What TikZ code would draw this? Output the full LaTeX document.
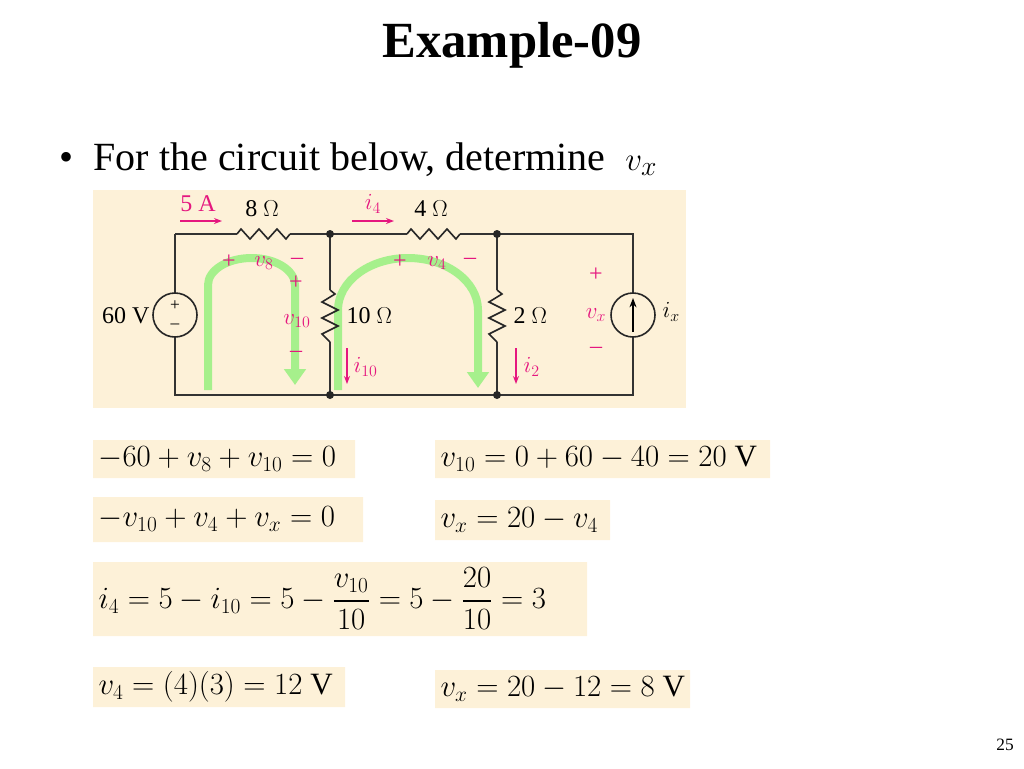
\documentclass[tikz,border=0pt]{standalone}
\usepackage{amsmath}
\usepackage{graphicx}
\usepackage{fontspec}
\setmainfont{Liberation Serif}
\usetikzlibrary{arrows.meta}
\definecolor{panel}{HTML}{FDF1D8}
\definecolor{pinkc}{HTML}{E5177F}
\definecolor{loopc}{HTML}{A6F08C}
\tikzset{
  wire/.style={line width=1.1pt,black!80},
  res/.style={line width=1.2pt,black!85},
  lbl/.style={font=\fontsize{18}{20}\selectfont,inner sep=1pt},
  pk/.style={lbl,text=pinkc},
  curr/.style={pinkc,line width=1pt,-{Stealth[length=6pt]}},
  loop/.style={loopc,line width=6pt,line cap=butt,-{Triangle[length=12pt,width=16pt]}},
  dot/.style={circle,fill=black!85,inner sep=0pt,minimum size=6pt},
  src/.style={circle,draw=black!85,line width=1.2pt,fill=panel,minimum size=33pt,inner sep=0pt},
  eq/.style={anchor=west,inner sep=4pt,font=\fontsize{25}{29}\selectfont}
}
\newcommand{\eqtext}[1]{\scalebox{0.93}{$#1$}}
\begin{document}
\begin{tikzpicture}[x=0.75pt,y=-0.75pt]
\useasboundingbox (0,0) rectangle (1024,768);
% title and question
\node[font=\bfseries\fontsize{38}{42}\selectfont] (title) at (512,45) {Example-09};
\node[anchor=west,font=\fontsize{30}{34}\selectfont] (ask) at (55,160) {\textbullet\ \ For the circuit below, determine \ $v_x$};
\node[font=\fontsize{13}{15}\selectfont] (page) at (1005,745) {25};

% circuit panel
\fill[panel] (93,190) rectangle (686,408);
\coordinate (tl) at (175,234);  \coordinate (bl) at (175,395);
\coordinate (ta) at (330,234);  \coordinate (ba) at (330,395);
\coordinate (tb) at (497,234);  \coordinate (bb) at (497,395);
\coordinate (tr) at (633,234);  \coordinate (br) at (633,395);

% green loops
\draw[loop] (208,390) -- (208,285) arc[start angle=180,end angle=360,x radius=43.5,y radius=27] -- (295,385);
\draw[loop] (338,390) -- (338,310) arc[start angle=180,end angle=360,x radius=70,y radius=52] -- (478,388);

% wires
\draw[wire] (tl) -- (237,234) (290,234) -- (ta) -- (407,234) (460,234) -- (tb) -- (tr) -- (br) -- (bl) -- (tl);
\draw[wire] (ta) -- (330,290) (330,342) -- (ba);
\draw[wire] (tb) -- (497,290) (497,342) -- (bb);
\draw[res] (237,234) -- (241,229) -- (250,239) -- (259,229) -- (268,239) -- (277,229) -- (286,239) -- (290,234);
\draw[res] (407,234) -- (411,229) -- (420,239) -- (429,229) -- (438,239) -- (447,229) -- (456,239) -- (460,234);
\draw[res] (330,290) -- (335,294) -- (322,302) -- (338,310) -- (322,318) -- (338,326) -- (322,334) -- (330,342);
\draw[res] (497,290) -- (502,294) -- (489,302) -- (505,310) -- (489,318) -- (505,326) -- (489,334) -- (497,342);
\node[dot] (na) at (ta) {}; \node[dot] (nb) at (ba) {};
\node[dot] (nc) at (tb) {}; \node[dot] (nd) at (bb) {};

% sources
\node[src] (vs) at (175,315) {};
\node[font=\fontsize{13}{13}\selectfont] (vp) at (175,306) {+};
\node[font=\fontsize{13}{13}\selectfont] (vm) at (175,326) {--};
\node[src] (is) at (633,315) {};
\draw[line width=1.1pt,-{Stealth[length=7pt]}] (633,332) -- (633,298);

% labels
\node[lbl,anchor=east] (l60) at (151,316) {60 V};
\node[lbl] (l8) at (262,209) {8 $\Omega$};
\node[lbl] (l4) at (431,209) {4 $\Omega$};
\node[lbl,anchor=west] (l10) at (345,316) {10 $\Omega$};
\node[lbl,anchor=west] (l2) at (512,316) {2 $\Omega$};
\node[lbl,anchor=west] (lix) at (661,312) {$i_x$};
\node[pk] (l5) at (198,204) {5 A};
\coordinate (a5s) at (180,221); \coordinate (a5e) at (222,221);
\draw[curr] (a5s) -- (a5e);
\node[pk] (li4) at (373,204) {$i_4$};
\coordinate (a4s) at (352,221); \coordinate (a4e) at (394,221);
\draw[curr] (a4s) -- (a4e);
\node[pk] (p8) at (229,262) {+}; \node[pk] (v8) at (264,263) {$v_8$}; \node[pk] (m8) at (297,261) {--};
\node[pk] (p4) at (400,262) {+}; \node[pk] (v4) at (437,263) {$v_4$}; \node[pk] (m4) at (470,261) {--};
\node[pk] (p10) at (296,283) {+}; \node[pk] (v10) at (297,321) {$v_{10}$}; \node[pk] (m10) at (296,354) {--};
\node[pk] (px) at (596,275) {+}; \node[pk] (vx) at (596,315) {$v_x$}; \node[pk] (mx) at (596,350) {--};
\coordinate (a10s) at (347,348); \coordinate (a10e) at (347,384);
\draw[curr] (a10s) -- (a10e);
\node[pk,anchor=west] (li10) at (352,367) {$i_{10}$};
\coordinate (a2s) at (516,348); \coordinate (a2e) at (516,384);
\draw[curr] (a2s) -- (a2e);
\node[pk,anchor=west] (li2) at (522,367) {$i_2$};

% equations
\fill[panel] (93,440) rectangle (355,478) (435,440) rectangle (770,478)
  (93,497) rectangle (363,542) (435,500) rectangle (610,540)
  (93,562) rectangle (587,636) (93,667) rectangle (345,707) (435,670) rectangle (690,708);
\node[eq] (e1) at (93,459) {\eqtext{-60+v_8+v_{10}=0}};
\node[eq] (e2) at (435,459) {\eqtext{v_{10}=0+60-40=20\text{ V}}};
\node[eq] (e3) at (93,519) {\eqtext{-v_{10}+v_4+v_x=0}};
\node[eq] (e4) at (435,520) {\eqtext{v_x=20-v_4}};
\node[eq] (e5) at (93,599) {\eqtext{i_4=5-i_{10}=5-\dfrac{v_{10}}{10}=5-\dfrac{20}{10}=3}};
\node[eq] (e6) at (93,687) {\eqtext{v_4=(4)(3)=12\text{ V}}};
\node[eq] (e7) at (435,689) {\eqtext{v_x=20-12=8\text{ V}}};
\end{tikzpicture}
\end{document}
